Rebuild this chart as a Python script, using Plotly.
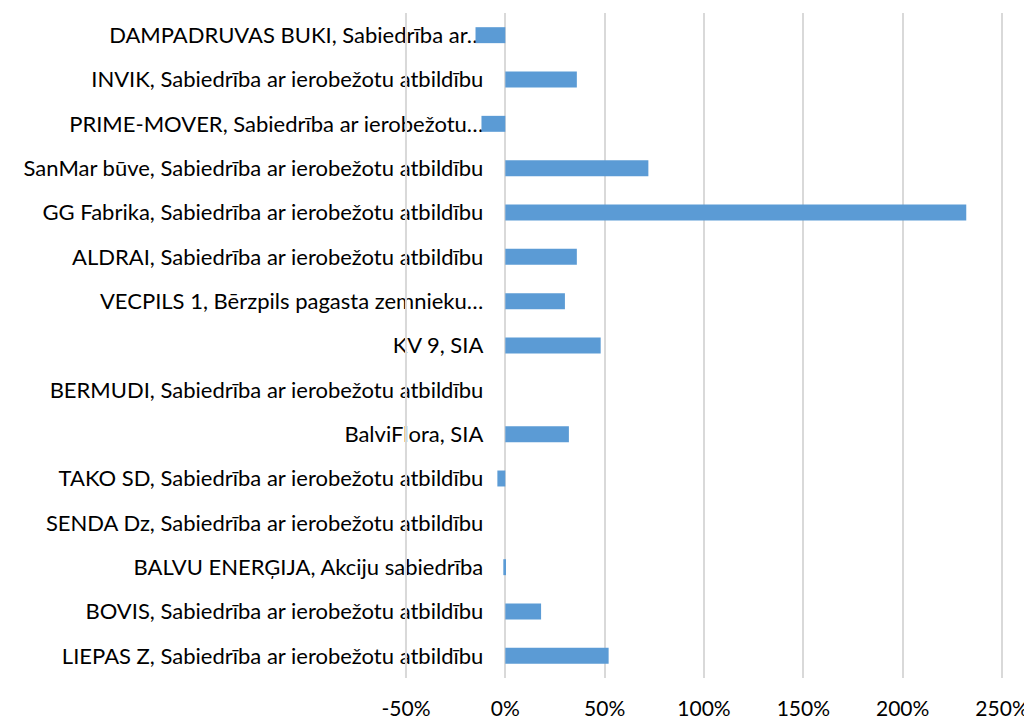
import plotly.graph_objects as go

# categories top to bottom, as in the chart
companies = [
    "DAMPADRUVAS BUKI, Sabiedrība ar…",
    "INVIK, Sabiedrība ar ierobežotu atbildību",
    "PRIME-MOVER, Sabiedrība ar ierobežotu…",
    "SanMar būve, Sabiedrība ar ierobežotu atbildību",
    "GG Fabrika, Sabiedrība ar ierobežotu atbildību",
    "ALDRAI, Sabiedrība ar ierobežotu atbildību",
    "VECPILS 1, Bērzpils pagasta zemnieku…",
    "KV 9, SIA",
    "BERMUDI, Sabiedrība ar ierobežotu atbildību",
    "BalviFlora, SIA",
    "TAKO SD, Sabiedrība ar ierobežotu atbildību",
    "SENDA Dz, Sabiedrība ar ierobežotu atbildību",
    "BALVU ENERĢIJA, Akciju sabiedrība",
    "BOVIS, Sabiedrība ar ierobežotu atbildību",
    "LIEPAS Z, Sabiedrība ar ierobežotu atbildību",
]
change = [-0.15, 0.36, -0.12, 0.72, 2.32, 0.36, 0.30, 0.48, 0.0, 0.32, -0.04, 0.0, -0.01, 0.18, 0.52]

x_ticks = [-0.5, 0, 0.5, 1.0, 1.5, 2.0, 2.5]
x_ticktext = ["-50%", "0%", "50%", "100%", "150%", "200%", "250%"]
x_min, x_max = -0.52, 2.52
grid_color = "#D9D9D9"

fig = go.Figure()
fig.add_trace(go.Bar(
    y=companies, x=change, orientation="h",
    marker=dict(color="#5B9BD5", line=dict(width=0)),
))

# plotly drops the leftmost grid line here, so draw it as a shape
fig.add_shape(type="line", xref="x", yref="paper",
              x0=x_ticks[0], x1=x_ticks[0], y0=0, y1=1,
              line=dict(color=grid_color, width=2), layer="above")

# page body has an 8px margin, so the figure is 8px smaller than the window
fig.update_layout(
    width=1024, height=712,
    margin=dict(l=394, r=26, t=5, b=42),
    plot_bgcolor="white", paper_bgcolor="white",
    font=dict(family="Lato", size=22, color="#000000"),
    bargap=0.64,
    showlegend=False,
)
fig.update_xaxes(
    range=[x_min, x_max], tickvals=x_ticks, ticktext=x_ticktext,
    showgrid=True, gridcolor=grid_color, gridwidth=2,
    zeroline=True, zerolinecolor=grid_color, zerolinewidth=2,
    showline=False, ticks="", ticklabelstandoff=16,
    tickfont=dict(size=21), domain=[0, 1], automargin=False,
)
# the category labels sit next to the 0% line, like the source chart
fig.update_yaxes(
    categoryorder="array", categoryarray=companies, autorange="reversed",
    anchor="free", position=(0 - x_min) / (x_max - x_min),
    showgrid=False, showline=False, ticks="", ticklabelstandoff=22,
    layer="below traces", automargin=False,
)

fig.write_html("out.html")
